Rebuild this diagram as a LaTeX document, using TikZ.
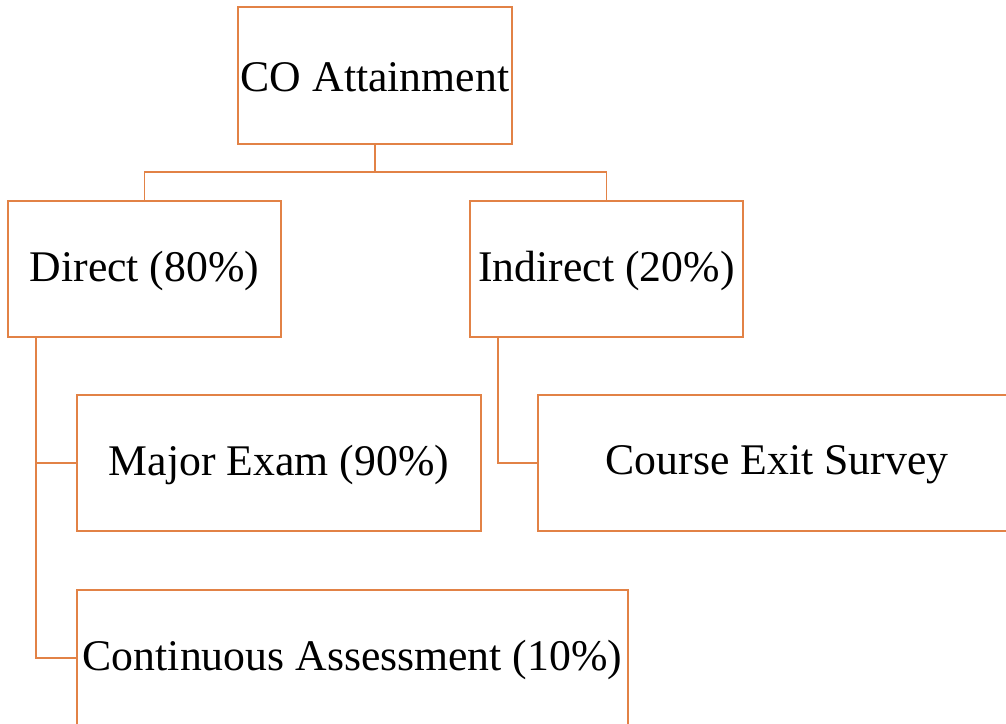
\documentclass[tikz,border=0pt]{standalone}
\usepackage{fontspec}
\setmainfont{Liberation Serif}
\definecolor{boxline}{RGB}{226,130,70}
\begin{document}
\begin{tikzpicture}[x=0.75pt,y=-0.75pt,
  box/.style={draw=boxline,line width=0.8pt,rectangle,inner sep=0pt,
    minimum height=102pt,font=\fontsize{32.8}{38}\selectfont,text=black},
  label/.style={yshift=-1.5pt},
  link/.style={draw=boxline,line width=0.8pt}]
\clip (0,0) rectangle (1006,724);
\useasboundingbox (0,0) rectangle (1006,724);
% boxes
\node[box,minimum width=205.5pt,minimum height=102.75pt] (co) at (375,75.5) {};
\node[box,minimum width=204.75pt] (direct) at (144.5,269) {};
\node[box,minimum width=204.75pt] (indirect) at (606.5,269) {};
\node[box,minimum width=303pt] (major) at (279,463) {};
\node[box,minimum width=358.5pt] (survey) at (777,463) {};
\node[box,minimum width=413.25pt] (cont) at (352.5,658) {};
% box texts
\node[box,draw=none,minimum size=0pt,label] (coT) at (co) {CO Attainment};
\node[box,draw=none,minimum size=0pt,label] (directT) at (direct) {Direct (80\%)};
\node[box,draw=none,minimum size=0pt,label] (indirectT) at (indirect) {Indirect (20\%)};
\node[box,draw=none,minimum size=0pt,label] (majorT) at (major) {Major Exam (90\%)};
\node[box,draw=none,minimum size=0pt,label] (surveyT) at (survey) {Course Exit Survey};
\node[box,draw=none,minimum size=0pt,label] (contT) at (cont) {Continuous Assessment (10\%)};
% connectors
\coordinate (split) at (375,172);
\draw[link] (co.south) -- (split);
\draw[link] (direct.north) |- (split) -| (indirect.north);
\coordinate (dtrunk) at ([xshift=21.375pt]direct.south west);
\coordinate (itrunk) at ([xshift=21.375pt]indirect.south west);
\draw[link] (dtrunk) |- (major.west);
\draw[link] (dtrunk) |- (cont.west);
\draw[link] (itrunk) |- (survey.west);
\end{tikzpicture}
\end{document}
